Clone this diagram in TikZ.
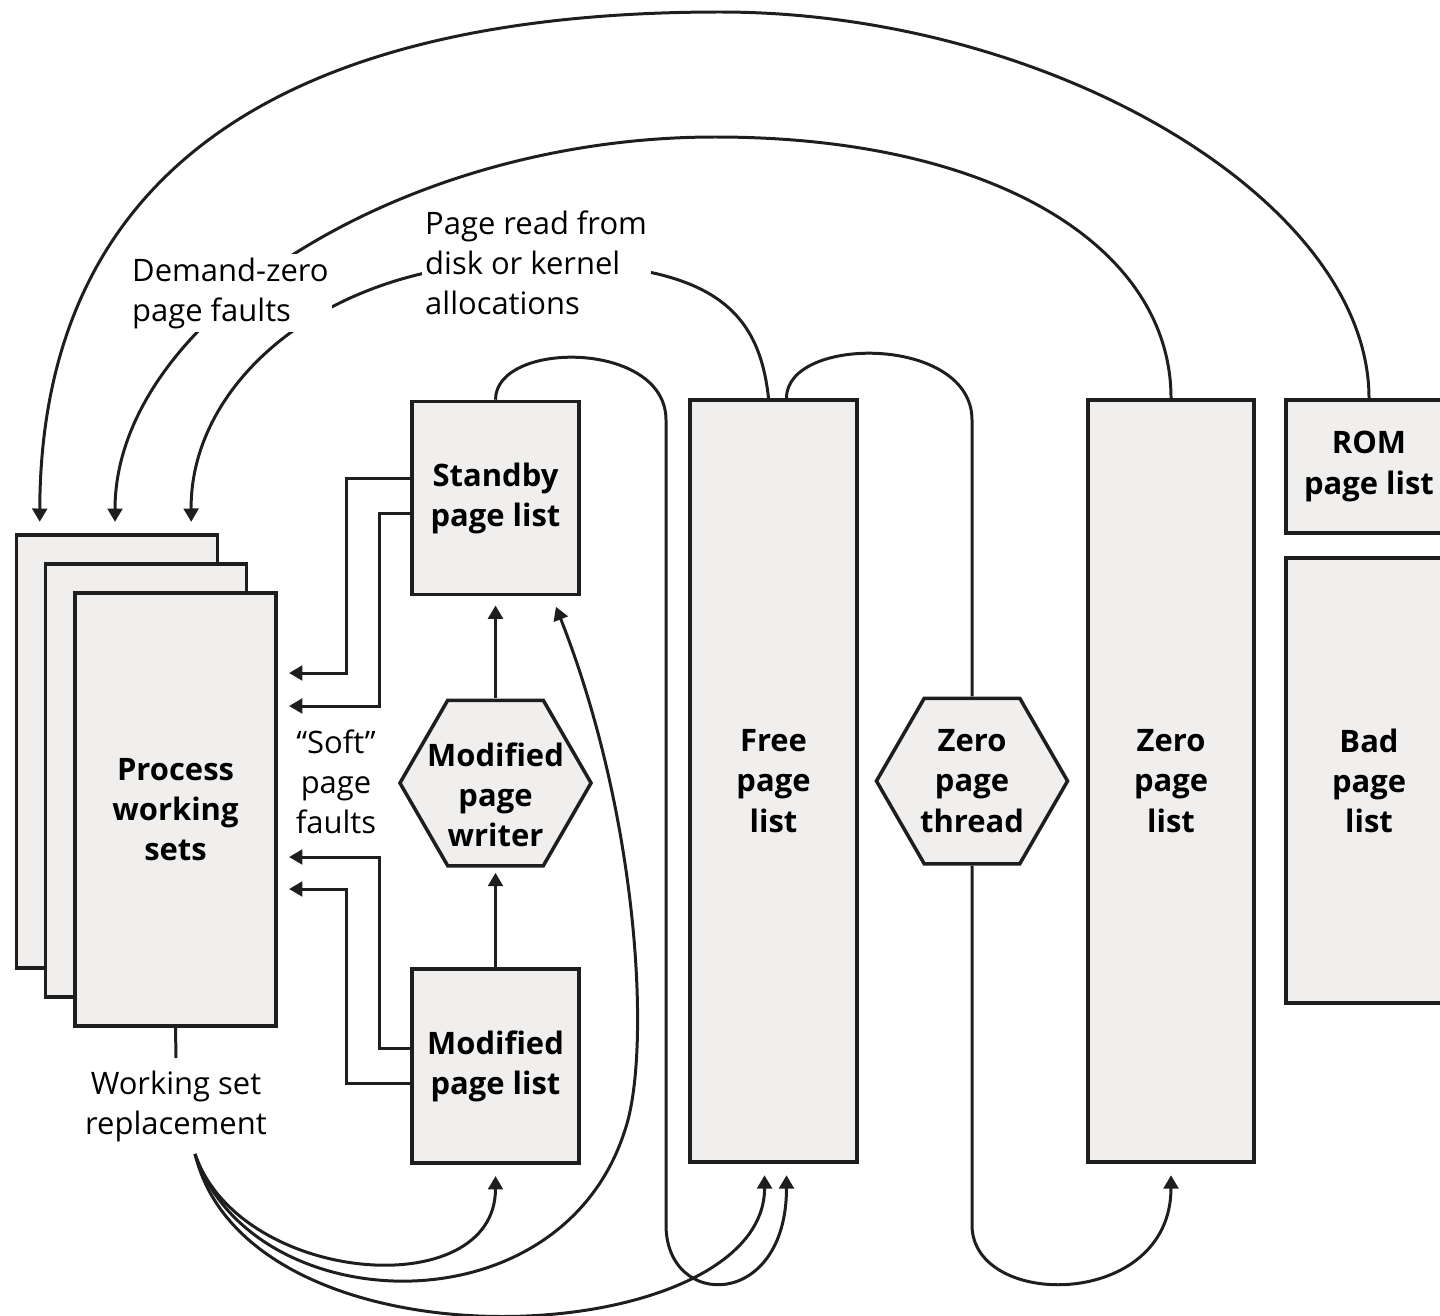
\documentclass[tikz,border=0pt]{standalone}
\usepackage{fontspec}
\setmainfont{Open Sans}
\usepackage{tikz}
\usetikzlibrary{arrows.meta,shapes.geometric,calc}
\definecolor{listfill}{RGB}{240,239,238}
\definecolor{ink}{RGB}{30,30,30}
\newcommand{\pgsize}{\fontsize{8.8}{11.4}\selectfont}

\begin{document}
\begin{tikzpicture}[x=0.01cm,y=-0.01cm,font=\pgsize,
	listtext/.style={font=\pgsize\bfseries,align=center},
	list/.style={draw=ink,line width=1pt,fill=listfill,inner sep=0pt,listtext},
	hexa/.style={regular polygon,regular polygon sides=6,draw=ink,line width=1pt,fill=listfill,inner sep=0pt,minimum size=1.91cm},
	wire/.style={draw=ink,line width=0.85pt},
	conn/.style={wire,-{Triangle[length=3.8pt,width=4.2pt]},shorten >=3.2pt},
	note/.style={align=left,inner sep=1pt,fill=white}]
	%\draw[step=100,gray,very thin] (0,0) grid (1440,1315);
	\useasboundingbox (0,0) rectangle (1440,1315);
	\foreach \n/\x/\y in {3/117/751.5,2/146/780.5}
		\node[list,minimum width=2.01cm,minimum height=4.33cm] (ws\n) at (\x,\y) {};
	\node[list,minimum width=2.01cm,minimum height=4.33cm] (ws1) at (175.5,809.5) {Process\\working\\sets};
	\node[list,minimum width=1.67cm,minimum height=1.93cm] (stby) at (495.5,498) {Standby\\page list};
	\node[list,minimum width=1.67cm,minimum height=1.94cm] (modl) at (495.5,1066) {Modified\\page list};
	\node[hexa,label={[listtext,yshift=-0.12cm]center:{Modified\\page\\writer}}] (mpw) at (495.5,783) {};
	\node[list,minimum width=1.67cm,minimum height=7.62cm] (free) at (773.5,781) {Free\\page\\list};
	\node[hexa,label={[listtext]center:{Zero\\page\\thread}}] (zthr) at (972,781) {};
	\node[list,minimum width=1.66cm,minimum height=7.62cm] (zero) at (1171,781) {Zero\\page\\list};
	\node[list,minimum width=1.66cm,minimum height=1.33cm] (rom) at (1369,466.5) {ROM\\page list};
	\node[list,minimum width=1.66cm,minimum height=4.45cm] (bad) at (1369,780.5) {Bad\\page\\list};

	% pages back into the working sets
	\draw[conn] (rom.north) .. controls (1369,200) and (1050,12) .. (720,12)
		.. controls (330,12) and (41,140) .. ($(ws3.north west)+(25,0)$);
	\draw[conn] (zero.north) .. controls (1171,250) and (1000,137) .. (715,137)
		.. controls (400,137) and (115,320) .. ($(ws3.north)+(-2,0)$);
	\draw[conn] ($(free.north)+(-5,0)$) .. controls (758,300) and (700,262) .. (525,262)
		.. controls (330,262) and (190,380) .. ($(ws3.north east)+(-28,0)$);
	\node[note,anchor=west] (dzlbl) at (128,293) {Demand-zero\\page faults};
	\node[note,anchor=west] (rdlbl) at (421,263) {Page read from\\disk or kernel\\allocations};

	% list to list
	\draw[conn] (stby.north) .. controls (495.5,340) and (666,340) .. (666,420) -- (666,1225)
		.. controls (666,1310) and (786.5,1310) .. ($(free.south)+(13,0)$);
	\draw[wire] ($(free.north)+(13,0)$) .. controls (786.5,335) and (972,335) .. (972,420) -- (zthr.north);
	\draw[conn] (zthr.south) -- (972,1225) .. controls (972,1310) and (1171,1310) .. (zero.south);
	\draw[conn,shorten >=1.5pt] (modl.north) -- (mpw.south);
	\draw[conn,shorten >=2.6pt] (mpw.north) -- (stby.south);

	% soft page faults
	\draw[conn] ($(stby.west)+(0,-20)$) -| ($(ws1.east)+(69,-136.5)$) -- ($(ws1.east)+(0,-136.5)$);
	\draw[conn] ($(stby.west)+(0,15)$) -| ($(ws1.east)+(102,-103.5)$) -- ($(ws1.east)+(0,-103.5)$);
	\draw[conn] ($(modl.west)+(0,-18)$) -| ($(ws1.east)+(102,47.5)$) -- ($(ws1.east)+(0,47.5)$);
	\draw[conn] ($(modl.west)+(0,17)$) -| ($(ws1.east)+(69,79.5)$) -- ($(ws1.east)+(0,79.5)$);
	\node[align=center] (soft) at (336,782) {“Soft”\\page\\faults};

	% working set replacement
	\node[align=center] (wsr) at (176,1106) {Working set\\replacement};
	\draw[wire] (ws1.south) -- (wsr.north);
	\draw[conn] ($(wsr.south)+(19,0)$) .. controls (240,1285) and (495.5,1305) .. (modl.south);
	\draw[conn] ($(wsr.south)+(19,0)$) .. controls (250,1320) and (560,1335) .. (625,1130)
		.. controls (651,1054) and (640,820) .. ($(stby.south east)+(-29,0)$);
	\draw[conn] ($(wsr.south)+(19,0)$) .. controls (250,1380) and (765,1350) .. ($(free.south)+(-9,0)$);
\end{tikzpicture}
\end{document}
